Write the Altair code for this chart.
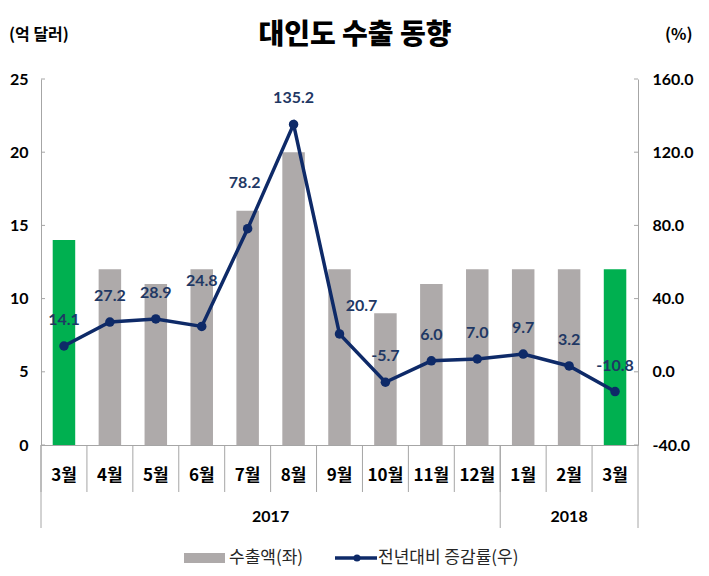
import altair as alt
import pandas as pd

# ---- data ----
months = ["3월", "4월", "5월", "6월", "7월", "8월", "9월", "10월", "11월", "12월", "1월", "2월", "3월"]
years = ["2017"] * 10 + ["2018"] * 3
exports = [14, 12, 11, 12, 16, 20, 12, 9, 11, 12, 12, 12, 12]          # 억 달러 (left axis)
growth = [14.1, 27.2, 28.9, 24.8, 78.2, 135.2, 20.7, -5.7, 6.0, 7.0, 9.7, 3.2, -10.8]  # % (right axis)
highlight = ["2017-3월", "2018-3월"]
left_ticks = [0, 5, 10, 15, 20, 25]
right_ticks = [-40, 0, 40, 80, 120, 160]
year_names = ["2017", "2018"]

keys = [f"{y}-{m}" for y, m in zip(years, months)]
df = pd.DataFrame({
    "key": keys,
    "exports": exports,
    "growth": growth,
    "label": [f"{g:.1f}" for g in growth],
    "hl": [k in highlight for k in keys],
})

# label placement style (pixel nudges, like manual label moves in the source)
LABEL_DY = -26
label_shift = {"2017-6월": (0, -45), "2017-7월": (-3, -46), "2017-9월": (22, -28)}

W, H = 597, 366
N = len(keys)
BAND = W / N
FONT_NUM = "Lato"
FONT_KR = "Noto Sans CJK KR"
NAVY = "#0E2A68"
GRAY = "#AEAAAA"
GREEN = "#00B050"
AXIS_GRAY = "#A6A6A6"

xscale = alt.Scale(domain=keys, paddingInner=0, paddingOuter=0)
x_axis = alt.Axis(
    labelExpr="split(datum.value, '-')[1]", labelAngle=0, labelFont=FONT_KR,
    labelFontSize=17, labelFontWeight="bold", labelColor="black", labelPadding=22,
    ticks=False, domainColor=AXIS_GRAY, domainWidth=1, grid=False,
)
x_enc = alt.X("key:N", scale=xscale, sort=keys, title=None, axis=x_axis)

y_left_scale = alt.Scale(domain=[0, 25], nice=False, zero=True)
y_left_axis = alt.Axis(
    values=left_ticks, title=None, labelFont=FONT_NUM, labelFontSize=16,
    labelFontWeight="bold", labelColor="black", labelPadding=13, ticks=False,
    grid=False, domainColor=AXIS_GRAY,
)
y_right_scale = alt.Scale(domain=[-40, 160], nice=False, zero=False)
y_right_axis = alt.Axis(
    orient="right", values=right_ticks, title=None,
    labelExpr="replace(format(datum.value, '.1f'), '\u2212', '-')",
    labelFont=FONT_NUM, labelFontSize=16, labelFontWeight="bold", labelColor="black",
    labelPadding=14, ticks=False, grid=False, domainColor=AXIS_GRAY,
)

base = alt.Chart(df)

bars = base.mark_bar(width=alt.RelativeBandSize(0.49)).encode(
    x=x_enc,
    y=alt.Y("exports:Q", scale=y_left_scale, axis=y_left_axis),
    color=alt.condition("datum.hl", alt.value(GREEN), alt.value(GRAY)),
)
lt = alt.Chart(pd.DataFrame({"v": left_ticks})).mark_rule(color=AXIS_GRAY).encode(
    y=alt.Y("v:Q", scale=y_left_scale, axis=y_left_axis),
    x=alt.value(0), x2=alt.value(4),
)
left_layer = alt.layer(bars, lt)

y_r = alt.Y("growth:Q", scale=y_right_scale, axis=y_right_axis)
line = base.mark_line(color=NAVY, strokeWidth=3.5).encode(x=x_enc, y=y_r)
pts = base.mark_circle(color=NAVY, size=90, opacity=1).encode(x=x_enc, y=y_r)

label_style = dict(color="#1F3864", font=FONT_NUM, fontSize=16, fontWeight="bold")
shifted_expr = "indexof([" + ",".join(f"'{k}'" for k in label_shift) + "], datum.key) < 0"
label_layers = [
    base.transform_filter(shifted_expr)
    .mark_text(dy=LABEL_DY, **label_style)
    .encode(x=x_enc, y=y_r, text="label:N")
]
for k, (ddx, ddy) in label_shift.items():
    label_layers.append(
        base.transform_filter(alt.datum.key == k)
        .mark_text(dx=ddx, dy=ddy, **label_style)
        .encode(x=x_enc, y=y_r, text="label:N")
    )

rt = alt.Chart(pd.DataFrame({"v": right_ticks})).mark_rule(color=AXIS_GRAY).encode(
    y=alt.Y("v:Q", scale=y_right_scale, axis=y_right_axis),
    x=alt.value(W - 4), x2=alt.value(W),
)
right_layer = alt.layer(line, pts, *label_layers, rt)

# category separators below the axis
seps = base.mark_rule(color=AXIS_GRAY).encode(
    x=alt.X("key:N", scale=xscale, sort=keys, bandPosition=0, title=None, axis=x_axis),
    y=alt.value(H), y2=alt.value(H + 47),
)
year_start = pd.DataFrame({"key": [keys[0], keys[years.index("2018")]]})
long_seps = alt.Chart(year_start).mark_rule(color=AXIS_GRAY).encode(
    x=alt.X("key:N", scale=xscale, sort=keys, bandPosition=0, title=None, axis=x_axis),
    y=alt.value(H), y2=alt.value(H + 83),
)
one = pd.DataFrame({"k": [0]})
right_edge = alt.Chart(one).mark_rule(color=AXIS_GRAY).encode(
    x=alt.value(W), y=alt.value(H), y2=alt.value(H + 83),
)

n17 = years.count("2017")
year_layers = []
for name, center in zip(year_names, [BAND * n17 / 2, BAND * (n17 + N) / 2]):
    year_layers.append(
        alt.Chart(one).mark_text(
            text=name, font=FONT_NUM, fontSize=16, fontWeight="bold", color="black"
        ).encode(x=alt.value(center), y=alt.value(H + 72))
    )

title = alt.Chart(one).mark_text(
    text="대인도 수출 동향", font=FONT_KR, fontSize=28, fontWeight=900, color="black"
).encode(x=alt.value(314), y=alt.value(-43))
unit_l = alt.Chart(one).mark_text(
    text="(억 달러)", font=FONT_KR, fontSize=16, fontWeight="bold", color="black", align="left"
).encode(x=alt.value(-32), y=alt.value(-44))
unit_r = alt.Chart(one).mark_text(
    text="(%)", font=FONT_KR, fontSize=16, fontWeight="bold", color="black", align="left"
).encode(x=alt.value(624), y=alt.value(-44))

# manual legend
LY = H + 113
leg_box = alt.Chart(one).mark_rect(color=GRAY).encode(
    x=alt.value(143), x2=alt.value(184), y=alt.value(LY - 5), y2=alt.value(LY + 5)
)
leg_t1 = alt.Chart(one).mark_text(
    text="수출액(좌)", font=FONT_KR, fontSize=17, color="#262626", align="left"
).encode(x=alt.value(188), y=alt.value(LY))
leg_line = alt.Chart(one).mark_rule(color=NAVY, strokeWidth=3.5).encode(
    x=alt.value(294), x2=alt.value(336), y=alt.value(LY)
)
leg_pt = alt.Chart(one).mark_circle(color=NAVY, size=50, opacity=1).encode(
    x=alt.value(316), y=alt.value(LY)
)
leg_t2 = alt.Chart(one).mark_text(
    text="전년대비 증감률(우)", font=FONT_KR, fontSize=17, color="#262626", align="left"
).encode(x=alt.value(337), y=alt.value(LY))

chart = alt.layer(
    left_layer, right_layer, seps, long_seps, right_edge, *year_layers,
    title, unit_l, unit_r, leg_box, leg_t1, leg_line, leg_pt, leg_t2,
).resolve_scale(y="independent").properties(
    width=W, height=H,
    background="white",
    autosize=alt.AutoSizeParams(type="none"),
    padding={"left": 33, "top": 71, "right": 63, "bottom": 123},
).configure_view(stroke=None)

chart.save("out.html", embed_options={"renderer": "svg", "actions": False})
